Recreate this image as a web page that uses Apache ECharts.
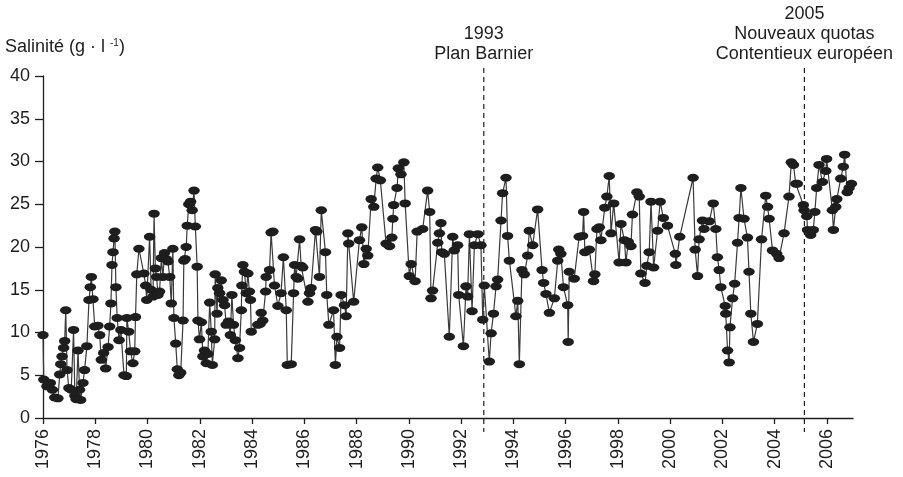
<!DOCTYPE html>
<html>
<head>
<meta charset="utf-8">
<title>Salinité</title>
<script src="https://cdn.jsdelivr.net/npm/echarts@6.0.0/dist/echarts.min.js"></script>
<style>
  html, body { margin: 0; padding: 0; background: #fff; }
  #main { width: 903px; height: 477px; }
</style>
</head>
<body>
<div id="main"></div>
<script>
// sample dates (decimal years) and salinity readings (g/l)
const years = [
  1976.00, 1976.03, 1976.15, 1976.28, 1976.36, 1976.45, 1976.57, 1976.64, 1976.68, 1976.73,
  1976.79, 1976.83, 1976.87, 1976.92, 1976.99, 1977.08, 1977.17, 1977.22, 1977.27, 1977.34,
  1977.40, 1977.44, 1977.53, 1977.59, 1977.68, 1977.76, 1977.81, 1977.85, 1977.91, 1977.98,
  1978.10, 1978.17, 1978.23, 1978.32, 1978.40, 1978.49, 1978.55, 1978.60, 1978.64, 1978.68,
  1978.72, 1978.75, 1978.79, 1978.84, 1978.91, 1978.98, 1979.10, 1979.19, 1979.21, 1979.28,
  1979.35, 1979.44, 1979.51, 1979.54, 1979.59, 1979.67, 1979.86, 1979.93, 1979.97, 1980.08,
  1980.14, 1980.21, 1980.25, 1980.30, 1980.35, 1980.40, 1980.46, 1980.53, 1980.59, 1980.65,
  1980.72, 1980.78, 1980.85, 1980.91, 1980.97, 1981.01, 1981.08, 1981.14, 1981.20, 1981.27,
  1981.36, 1981.39, 1981.44, 1981.48, 1981.52, 1981.58, 1981.65, 1981.71, 1981.78, 1981.83,
  1981.90, 1981.93, 1981.99, 1982.06, 1982.12, 1982.18, 1982.25, 1982.31, 1982.38, 1982.44,
  1982.48, 1982.57, 1982.59, 1982.66, 1982.69, 1982.76, 1982.82, 1982.89, 1982.95, 1983.01,
  1983.10, 1983.17, 1983.23, 1983.29, 1983.36, 1983.46, 1983.52, 1983.59, 1983.61, 1983.65,
  1983.71, 1983.78, 1983.84, 1983.90, 1983.94, 1983.97, 1984.22, 1984.31, 1984.35, 1984.41,
  1984.52, 1984.54, 1984.67, 1984.73, 1984.80, 1984.86, 1984.99, 1985.11, 1985.20, 1985.31,
  1985.35, 1985.50, 1985.59, 1985.63, 1985.69, 1985.75, 1985.82, 1985.88, 1985.94, 1986.14,
  1986.20, 1986.26, 1986.43, 1986.48, 1986.58, 1986.65, 1986.81, 1986.86, 1986.94, 1987.12,
  1987.19, 1987.25, 1987.35, 1987.41, 1987.54, 1987.60, 1987.67, 1987.70, 1987.89, 1988.11,
  1988.20, 1988.28, 1988.37, 1988.43, 1988.56, 1988.66, 1988.75, 1988.81, 1988.91, 1989.13,
  1989.26, 1989.35, 1989.39, 1989.42, 1989.55, 1989.60, 1989.70, 1989.81, 1989.86, 1990.02,
  1990.09, 1990.24, 1990.32, 1990.53, 1990.72, 1990.80, 1990.85, 1990.91, 1991.11, 1991.17,
  1991.23, 1991.26, 1991.36, 1991.55, 1991.68, 1991.74, 1991.87, 1991.91, 1992.09, 1992.19,
  1992.25, 1992.32, 1992.42, 1992.51, 1992.64, 1992.76, 1992.83, 1992.89, 1993.08, 1993.15,
  1993.24, 1993.34, 1993.40, 1993.53, 1993.59, 1993.72, 1993.78, 1993.85, 1994.10, 1994.17,
  1994.23, 1994.33, 1994.42, 1994.55, 1994.61, 1994.74, 1994.93, 1995.10, 1995.16, 1995.25,
  1995.38, 1995.57, 1995.70, 1995.74, 1995.82, 1995.92, 1996.08, 1996.10, 1996.14, 1996.33,
  1996.52, 1996.65, 1996.69, 1996.74, 1996.91, 1997.07, 1997.12, 1997.20, 1997.29, 1997.35,
  1997.50, 1997.58, 1997.67, 1997.74, 1997.84, 1998.05, 1998.12, 1998.25, 1998.31, 1998.40,
  1998.50, 1998.56, 1998.73, 1998.82, 1998.88, 1999.04, 1999.11, 1999.20, 1999.27, 1999.37,
  1999.52, 1999.62, 1999.74, 1999.90, 2000.20, 2000.22, 2000.37, 2000.88, 2000.96, 2001.05,
  2001.11, 2001.24, 2001.30, 2001.50, 2001.65, 2001.75, 2001.81, 2001.88, 2001.94, 2002.11,
  2002.13, 2002.20, 2002.26, 2002.29, 2002.39, 2002.47, 2002.58, 2002.64, 2002.71, 2002.83,
  2002.96, 2003.02, 2003.09, 2003.19, 2003.34, 2003.50, 2003.66, 2003.73, 2003.79, 2003.92,
  2004.08, 2004.17, 2004.36, 2004.55, 2004.64, 2004.72, 2004.81, 2004.87, 2005.10, 2005.13,
  2005.23, 2005.26, 2005.38, 2005.48, 2005.54, 2005.61, 2005.70, 2005.83, 2005.96, 2005.99,
  2006.21, 2006.25, 2006.34, 2006.38, 2006.53, 2006.63, 2006.68, 2006.78, 2006.85, 2006.94
];
const salinity = [
  9.7, 4.5, 3.7, 4.1, 3.3, 2.4, 2.3, 5.1, 6.3, 7.2,
  8.2, 9.0, 12.6, 5.6, 3.5, 3.3, 10.3, 2.6, 2.2, 7.9,
  3.3, 2.1, 4.1, 5.6, 8.4, 13.8, 15.3, 16.5, 13.9, 10.7,
  10.8, 9.7, 6.8, 7.6, 5.8, 8.3, 10.7, 13.4, 17.9, 19.4,
  21.0, 21.8, 15.3, 11.7, 9.1, 10.3, 5.0, 4.9, 11.7, 10.1,
  7.8, 6.4, 7.8, 11.8, 16.8, 19.8, 16.9, 15.5, 13.8, 21.2,
  15.0, 14.2, 23.9, 17.5, 16.5, 14.4, 14.8, 18.7, 16.5, 19.3,
  18.6, 18.3, 16.5, 13.4, 19.8, 11.7, 8.7, 5.7, 5.0, 5.3,
  11.4, 18.4, 18.6, 20.0, 22.5, 25.0, 25.3, 24.3, 26.6, 22.4,
  17.7, 11.4, 9.2, 11.2, 7.2, 7.9, 6.4, 7.5, 13.5, 10.1,
  6.2, 9.2, 16.8, 12.2, 15.2, 14.6, 16.1, 13.8, 13.2, 10.9,
  11.3, 9.7, 14.4, 10.9, 9.1, 7.0, 8.2, 12.6, 15.5, 17.9,
  17.1, 14.6, 16.9, 14.8, 13.8, 10.1, 10.9, 11.0, 12.3, 11.4,
  14.8, 16.5, 17.3, 21.7, 21.8, 15.5, 13.1, 14.6, 18.8, 12.6,
  6.2, 6.3, 14.6, 17.9, 16.5, 16.3, 20.9, 17.8, 17.6, 13.6,
  14.6, 15.2, 22.0, 21.8, 16.5, 24.3, 19.4, 14.4, 10.9, 12.6,
  6.2, 9.5, 8.2, 14.4, 13.2, 11.9, 21.6, 20.4, 13.6, 20.8,
  22.3, 18.0, 19.8, 19.0, 25.6, 24.7, 28.0, 29.3, 27.8, 20.4,
  20.1, 21.1, 23.3, 24.9, 26.9, 29.2, 28.5, 29.9, 25.1, 16.6,
  18.0, 16.0, 21.8, 22.1, 26.6, 24.1, 14.0, 14.9, 20.5, 21.6,
  22.8, 19.4, 19.2, 9.5, 21.2, 19.6, 20.2, 14.4, 8.4, 15.4,
  14.2, 21.5, 12.5, 20.2, 21.5, 20.2, 11.5, 15.5, 6.6, 9.9,
  12.2, 15.4, 16.2, 23.1, 26.3, 28.1, 21.3, 18.4, 11.9, 13.7,
  6.3, 17.3, 16.8, 19.0, 21.9, 20.2, 24.4, 17.3, 15.8, 14.5,
  12.3, 14.0, 18.4, 19.7, 19.2, 15.3, 13.2, 8.9, 17.1, 16.3,
  21.2, 21.3, 24.1, 19.4, 19.7, 16.0, 16.8, 22.1, 22.3, 20.8,
  24.6, 25.9, 28.3, 21.6, 25.1, 18.2, 22.7, 20.8, 18.2, 20.6,
  20.1, 23.8, 26.4, 25.9, 16.9, 15.8, 17.8, 19.4, 25.3, 17.6,
  21.9, 25.3, 23.4, 22.5, 19.2, 17.9, 21.2, 28.1, 19.7, 16.6,
  20.9, 23.1, 22.1, 23.0, 25.1, 22.1, 18.8, 17.3, 15.3, 13.1,
  12.2, 7.9, 6.5, 10.6, 14.0, 15.7, 20.5, 23.4, 26.9, 23.3,
  21.1, 17.1, 12.2, 8.9, 11.0, 20.9, 26.0, 24.7, 23.3, 19.6,
  19.2, 18.7, 21.6, 25.9, 29.9, 29.6, 27.4, 27.4, 24.9, 24.3,
  23.6, 22.0, 21.4, 22.0, 24.1, 26.9, 29.6, 27.6, 28.9, 30.3,
  24.3, 22.0, 24.7, 25.6, 28.0, 29.4, 30.8, 26.4, 26.9, 27.4
];
const yearTicks = [1976, 1978, 1980, 1982, 1984, 1986, 1988, 1990, 1992,
                   1994, 1996, 1998, 2000, 2002, 2004, 2006];
// events marked with a dashed line
const eventYears = [1992.87, 2005.14];
const eventLabels = ['1993\nPlan Barnier', '2005\nNouveaux quotas\nContentieux européen'];

const font = '"Liberation Sans", Arial, sans-serif';
const ink = '#1e1e1e';
const fs = 18;

let myChart = echarts.init(document.getElementById('main'));
myChart.setOption({
  animation: false,
  grid: {
    left: 43,
    right: 50,
    top: 76,
    bottom: 59
  },
  xAxis: {
    type: 'value',
    min: 1976,
    max: 2007,
    axisLine: {
      lineStyle: { color: ink, width: 1.3 }
    },
    axisTick: {
      customValues: yearTicks,
      length: 6,
      lineStyle: { color: ink, width: 1.3 }
    },
    axisLabel: {
      customValues: yearTicks,
      rotate: 90,
      margin: 11,
      color: ink,
      fontSize: fs,
      fontFamily: font,
      formatter: v => String(v)
    },
    splitLine: { show: false }
  },
  yAxis: {
    type: 'value',
    min: 0,
    max: 40,
    interval: 5,
    axisLine: {
      show: true,
      lineStyle: { color: ink, width: 1.3 }
    },
    axisTick: {
      show: true,
      length: 8,
      lineStyle: { color: ink, width: 1.3 }
    },
    axisLabel: {
      margin: 13,
      color: ink,
      fontSize: fs,
      fontFamily: font
    },
    splitLine: { show: false }
  },
  series: [{
    name: 'Salinité',
    type: 'line',
    data: years.map((y, i) => [y, salinity[i]]),
    symbol: 'circle',
    symbolSize: [11.5, 8],
    itemStyle: { color: ink },
    lineStyle: { color: '#3a3a3a', width: 1.2 },
    z: 3
  }]
});

// annotations placed from the axis scale
let yTop = myChart.convertToPixel({ yAxisIndex: 0 }, 40);
let yBottom = myChart.convertToPixel({ yAxisIndex: 0 }, 0);
let graphics = [{
  type: 'text',
  left: 5,
  top: 38,
  style: {
    text: 'Salinité (g · l {sup|-1})',
    font: fs + 'px ' + font,
    fill: ink,
    rich: {
      sup: { fontSize: 10, fontFamily: font, fill: ink, verticalAlign: 'top', padding: [0, 0, 9, 0] }
    }
  }
}];
eventYears.forEach((ev, i) => {
  let px = myChart.convertToPixel({ xAxisIndex: 0 }, ev);
  let lines = eventLabels[i].split('\n').length;
  graphics.push({
    type: 'line',
    shape: { x1: px, y1: yTop - 8, x2: px, y2: yBottom + 14 },
    style: { stroke: ink, lineWidth: 1.2, lineDash: [5, 4] },
    z: 1
  });
  graphics.push({
    type: 'text',
    x: px,
    y: 64 - lines * 20,
    style: {
      text: eventLabels[i],
      font: fs + 'px ' + font,
      fill: ink,
      align: 'center',
      verticalAlign: 'top',
      lineHeight: 20
    }
  });
});
myChart.setOption({ graphic: graphics });
</script>
</body>
</html>
